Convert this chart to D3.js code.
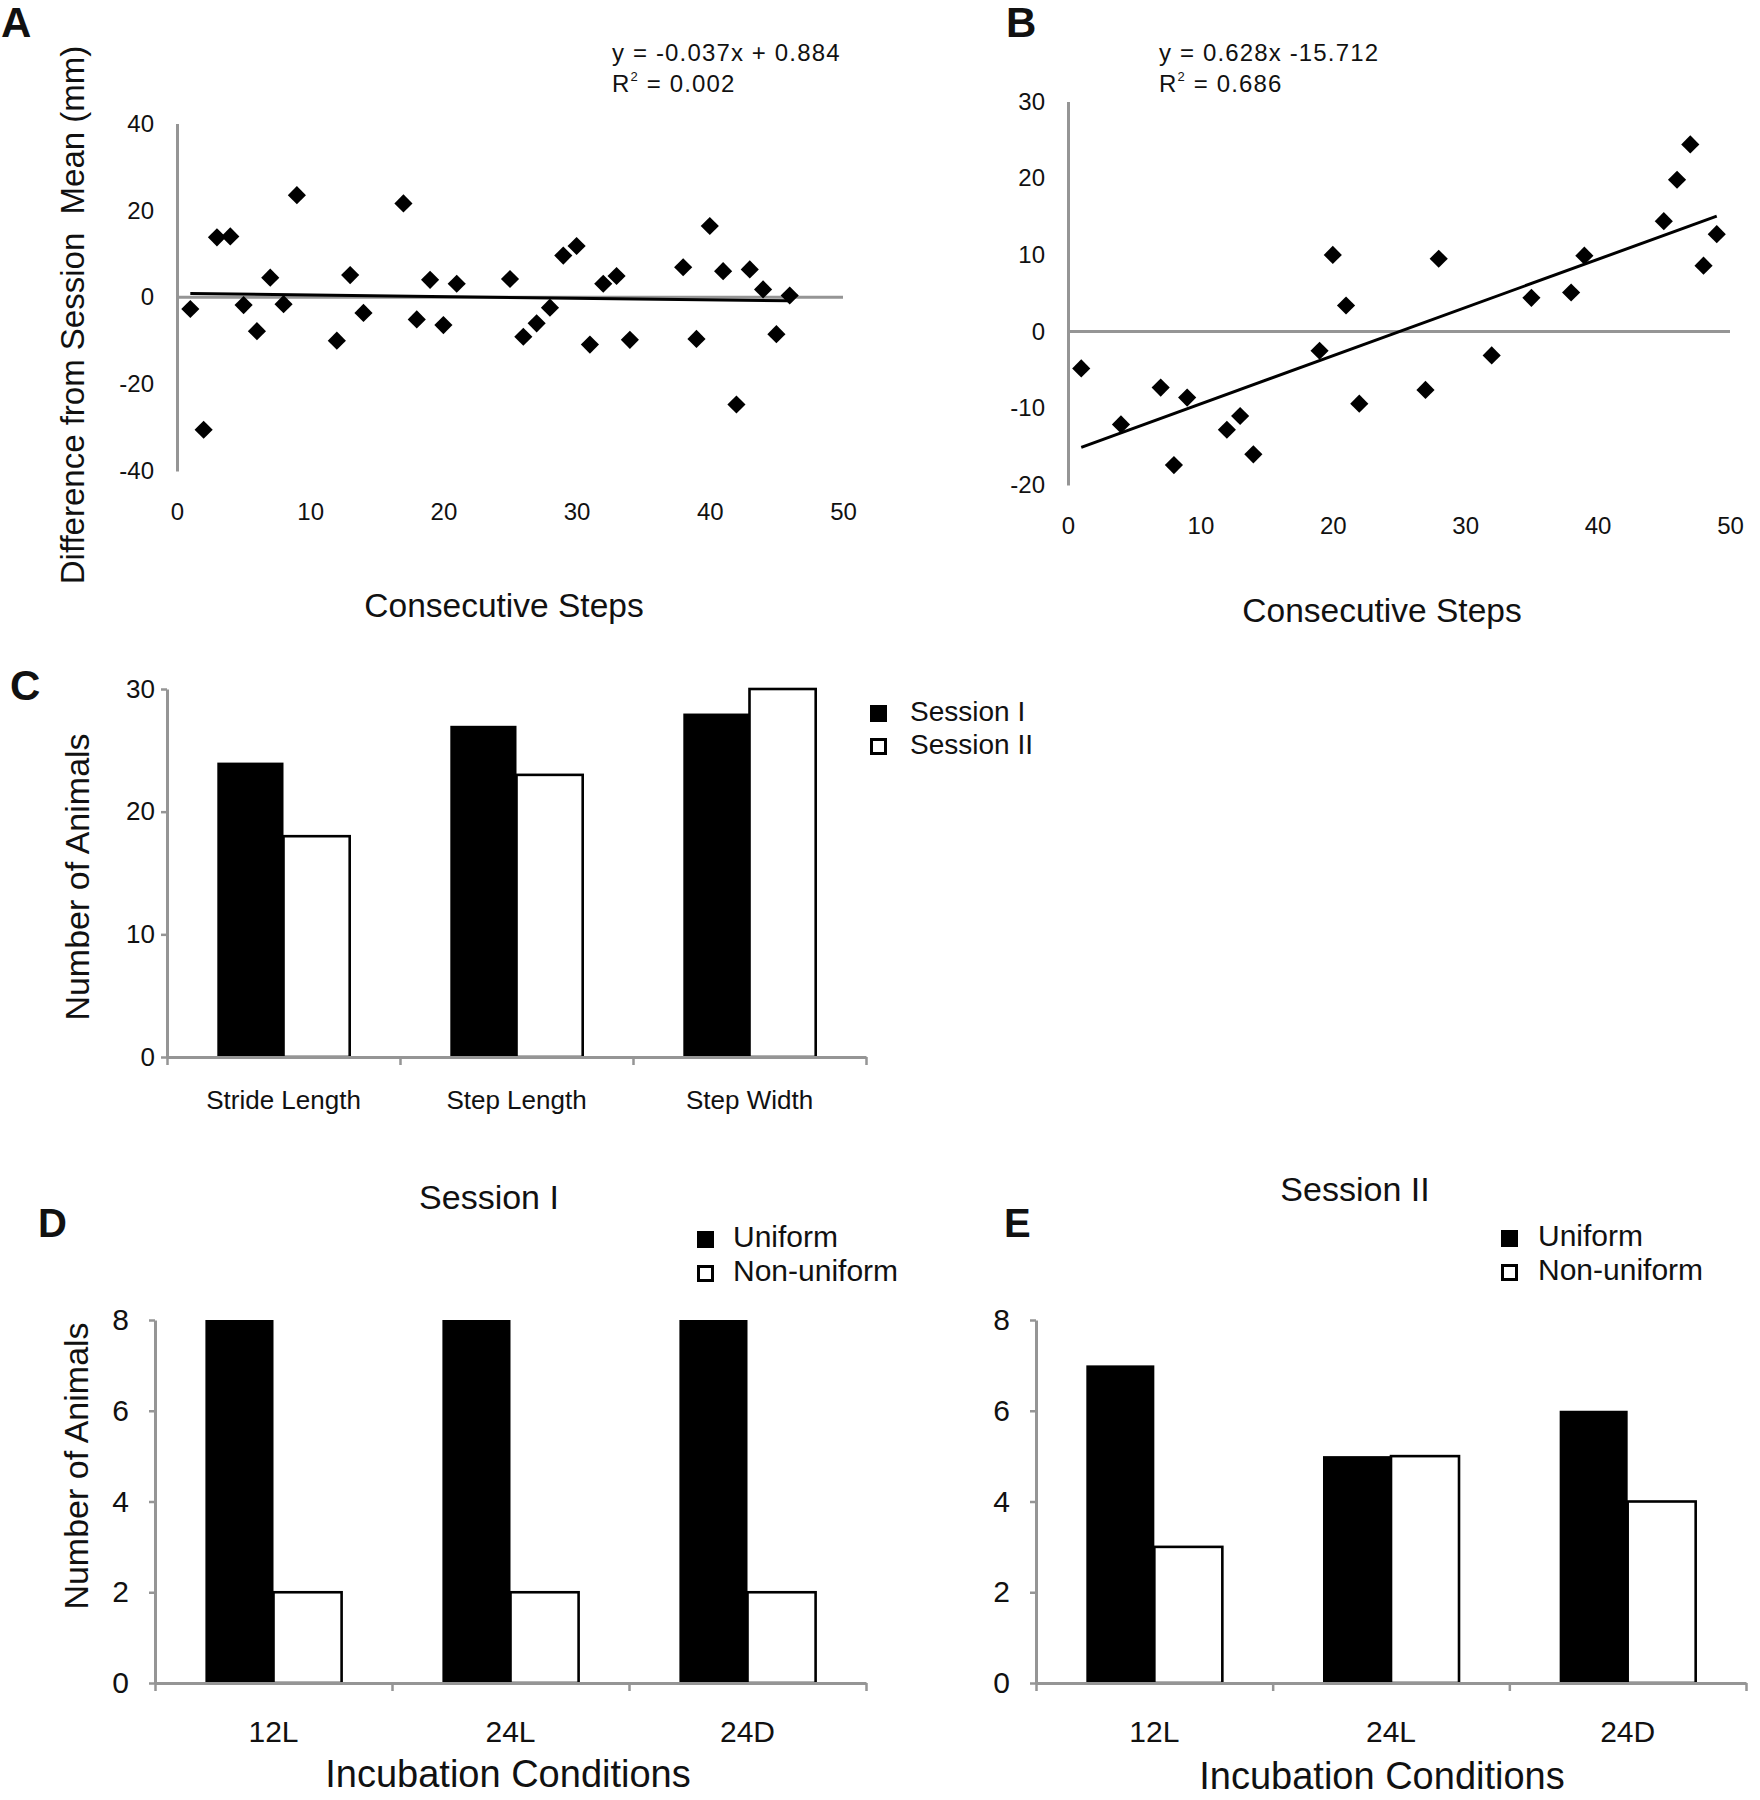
<!DOCTYPE html>
<html><head><meta charset="utf-8">
<script src="https://cdn.jsdelivr.net/npm/d3@7"></script>
<style>
body{margin:0;background:#fff}
text{font-family:"Liberation Sans",Arial,Helvetica,sans-serif;fill:#111}
</style>
</head><body>
<svg id="fig" width="1760" height="1800" xmlns="http://www.w3.org/2000/svg"></svg>
<script>
// ---------------- DATA ----------------
const stepsA = [1,2,3,4,5,6,7,8,9,12,13,14,17,18,19,20,21,25,26,27,28,29,30,31,32,33,34,38,39,40,41,42,43,44,45,46];
const diffA  = [-2.7,-30.5,13.8,14,-1.8,-7.8,4.5,-1.6,23.5,-10,5.1,-3.6,21.6,-5.1,4,-6.4,3.1,4.2,-9.1,-6,-2.4,9.6,11.8,-10.9,3.1,4.9,-9.8,6.9,-9.6,16.4,6,-24.7,6.4,1.8,-8.5,0.4];
const fitA = {slope:-0.037, intercept:0.884, from:1, to:46};

const stepsB = [1,4,7,8,9,12,13,14,19,20,21,22,27,28,32,35,38,39,45,46,47,48,49];
const diffB  = [-4.8,-12.1,-7.3,-17.4,-8.6,-12.8,-11,-16,-2.5,10,3.4,-9.4,-7.6,9.5,-3.1,4.4,5.1,9.9,14.4,19.8,24.4,8.6,12.7];
const fitB = {slope:0.628, intercept:-15.712, from:1, to:49};

const stepTicks = [0,10,20,30,40,50];
const ticksA = [-40,-20,0,20,40];
const ticksB = [-20,-10,0,10,20,30];

const gaitMeasures = ["Stride Length","Step Length","Step Width"];
const sessionI  = [24,27,28];
const sessionII = [18,23,30];
const ticksC = [0,10,20,30];

const incubation = ["12L","24L","24D"];
const uniformS1    = [8,8,8];
const nonUniformS1 = [2,2,2];
const uniformS2    = [7,5,6];
const nonUniformS2 = [3,5,4];
const ticksDE = [0,2,4,6,8];

// ---------------- HELPERS ----------------
const svg = d3.select("#fig");
const GRAY = "#959595";
const plain = d => String(d);   // hyphen-minus like the original

function label(txt, x, y, size, opts={}) {
  const t = svg.append("text").attr("x", x).attr("y", y)
    .attr("font-size", size).attr("text-anchor", opts.anchor || "start")
    .style("white-space","pre")
    .text(txt);
  if (opts.bold) t.attr("font-weight", "bold");
  return t;
}
function vlabel(txt, x, y, size) {
  return svg.append("text").attr("transform", `translate(${x},${y}) rotate(-90)`)
    .attr("font-size", size).attr("text-anchor", "middle")
    .style("white-space","pre").text(txt);
}
function equation(x, y1, y2, eq, r2) {
  label(eq, x, y1, 24).attr("letter-spacing", 1.15);
  const t = label("R", x, y2, 24).attr("letter-spacing", 1.15);
  t.append("tspan").attr("font-size", 13).attr("dy", -11).text("2");
  t.append("tspan").attr("dy", 11).text(" = " + r2);
}

function scatterPanel(p) {
  const x = d3.scaleLinear().domain([0,50]).range(p.xRange);
  const y = d3.scaleLinear().domain(p.yDomain).range(p.yRange);
  const g = svg.append("g");
  // y axis
  const ya = g.append("g").attr("transform", `translate(${p.xRange[0]},0)`)
    .call(d3.axisLeft(y).tickValues(p.yTicks).tickFormat(plain).tickSize(0).tickPadding(23).tickSizeOuter(0));
  ya.select(".domain").attr("stroke", GRAY).attr("stroke-width", 3);
  ya.selectAll("text").attr("font-size", 24).attr("font-family", null).attr("fill", "#111");
  // x axis labels (no line)
  const xa = g.append("g").attr("transform", `translate(0,${p.xLabelY})`)
    .call(d3.axisBottom(x).tickValues(stepTicks).tickFormat(plain).tickSize(0).tickPadding(0));
  xa.select(".domain").remove();
  xa.selectAll("text").attr("font-size", 24).attr("font-family", null).attr("fill", "#111")
    .attr("y", 0).attr("dy", "0.35em");
  // zero line
  g.append("line").attr("x1", x(0)).attr("x2", x(50)).attr("y1", y(0)).attr("y2", y(0))
    .attr("stroke", GRAY).attr("stroke-width", 3);
  // trend line
  const f = p.fit;
  g.append("path").datum([f.from, f.to])
    .attr("d", d3.line().x(d => x(d)).y(d => y(f.slope * d + f.intercept)))
    .attr("stroke", "#000").attr("stroke-width", 3).attr("fill", "none");
  // points
  const sym = d3.symbol().type(d3.symbolSquare).size(165);
  g.selectAll("path.pt").data(p.xs.map((v,i) => [v, p.ys[i]])).join("path")
    .attr("class", "pt")
    .attr("d", sym)
    .attr("transform", d => `translate(${x(d[0])},${y(d[1])}) rotate(45)`)
    .attr("fill", "#000");
}

function barPanel(p) {
  const y = d3.scaleLinear().domain([0, p.yMax]).range(p.yRange);
  const x0 = d3.scaleBand().domain(p.cats).range(p.xRange).padding(0);
  const x1 = d3.scaleBand().domain(d3.range(p.series.length)).range([0, x0.bandwidth()])
    .paddingInner(0).paddingOuter(p.pad);
  const xb = d3.scaleLinear().domain([0, p.cats.length]).range(p.xRange);
  const g = svg.append("g");
  // bars
  p.series.forEach((s, si) => {
    g.selectAll(null).data(s.vals).join("rect")
      .attr("x", (d,i) => x0(p.cats[i]) + x1(si))
      .attr("width", x1.bandwidth())
      .attr("y", d => y(d))
      .attr("height", d => y(0) - y(d))
      .attr("fill", s.fill)
      .attr("stroke", "#000")
      .attr("stroke-width", s.fill === "#fff" ? 2.6 : 0);
  });
  // y axis
  const ya = g.append("g").attr("transform", `translate(${p.xRange[0]},0)`)
    .call(d3.axisLeft(y).tickValues(p.yTicks).tickFormat(plain).tickSizeInner(6).tickSizeOuter(0).tickPadding(p.tickPad));
  ya.select(".domain").attr("stroke", GRAY).attr("stroke-width", 3);
  ya.selectAll(".tick line").attr("stroke", GRAY).attr("stroke-width", 2.5);
  ya.selectAll("text").attr("font-size", p.tickFont).attr("font-family", null).attr("fill", "#111");
  // x axis line with boundary ticks
  const xa = g.append("g").attr("transform", `translate(0,${y(0)})`)
    .call(d3.axisBottom(xb).tickValues(d3.range(p.cats.length + 1)).tickFormat("").tickSizeInner(8).tickSizeOuter(0));
  xa.select(".domain").attr("stroke", GRAY).attr("stroke-width", 3);
  xa.selectAll(".tick line").attr("stroke", GRAY).attr("stroke-width", 2.5);
  // category labels
  const ca = g.append("g").attr("transform", `translate(0,${p.catY})`)
    .call(d3.axisBottom(x0).tickSize(0).tickPadding(0));
  ca.select(".domain").remove();
  ca.selectAll("text").attr("font-size", p.catFont).attr("font-family", null).attr("fill", "#111")
    .attr("y", 0).attr("dy", 0);
}

function legend(x, yTop, gap, items, sq, font, textDx) {
  items.forEach((it, i) => {
    const yy = yTop + i * gap;
    const hollow = it.fill === "#fff";
    svg.append("rect").attr("x", x + (hollow ? 1.5 : 0)).attr("y", yy + (hollow ? 1.5 : 0))
      .attr("width", sq - (hollow ? 3 : 0)).attr("height", sq - (hollow ? 3 : 0))
      .attr("fill", it.fill).attr("stroke", "#000").attr("stroke-width", hollow ? 3 : 0);
    label(it.name, x + textDx, yy + sq - 1, font);
  });
}

// ---------------- PANEL A ----------------
label("A", 1, 37, 42, {bold:true});
equation(612, 61, 92, "y = -0.037x + 0.884", "0.002");
scatterPanel({xs: stepsA, ys: diffA, fit: fitA, xRange:[177, 843], yDomain:[-40,40], yRange:[471,123.5],
  yTicks: ticksA, xLabelY: 512});
vlabel("Difference from Session  Mean (mm)", 84, 315, 33);
label("Consecutive Steps", 504, 617, 33.5, {anchor:"middle"});

// ---------------- PANEL B ----------------
label("B", 1006, 37, 42, {bold:true});
equation(1159, 61, 92, "y = 0.628x -15.712", "0.686");
scatterPanel({xs: stepsB, ys: diffB, fit: fitB, xRange:[1068, 1730], yDomain:[-20,30], yRange:[485,101.5],
  yTicks: ticksB, xLabelY: 526});
label("Consecutive Steps", 1382, 622, 33.5, {anchor:"middle"});

// ---------------- PANEL C ----------------
label("C", 10, 700, 42, {bold:true});
barPanel({cats: gaitMeasures, series:[{vals: sessionI, fill:"#000"}, {vals: sessionII, fill:"#fff"}],
  xRange:[167, 866], yRange:[1057, 689], yMax:30, yTicks: ticksC, pad:0.76,
  tickPad:6, tickFont:26, catY:1109, catFont:26});
vlabel("Number of Animals", 89, 877, 34);
legend(870, 705, 33, [{name:"Session I", fill:"#000"}, {name:"Session II", fill:"#fff"}], 17, 28, 40);

// ---------------- PANEL D ----------------
label("D", 38, 1237, 40, {bold:true});
label("Session I", 489, 1209, 34, {anchor:"middle"});
legend(697, 1231, 34, [{name:"Uniform", fill:"#000"}, {name:"Non-uniform", fill:"#fff"}], 17, 30, 36);
barPanel({cats: incubation, series:[{vals: uniformS1, fill:"#000"}, {vals: nonUniformS1, fill:"#fff"}],
  xRange:[155, 866], yRange:[1683, 1320], yMax:8, yTicks: ticksDE, pad:0.74,
  tickPad:20, tickFont:30, catY:1742, catFont:30});
vlabel("Number of Animals", 88, 1466, 34);
label("Incubation Conditions", 508, 1787, 38, {anchor:"middle"});

// ---------------- PANEL E ----------------
label("E", 1004, 1237, 40, {bold:true});
label("Session II", 1355, 1201, 34, {anchor:"middle"});
legend(1501, 1230, 34, [{name:"Uniform", fill:"#000"}, {name:"Non-uniform", fill:"#fff"}], 17, 30, 37);
barPanel({cats: incubation, series:[{vals: uniformS2, fill:"#000"}, {vals: nonUniformS2, fill:"#fff"}],
  xRange:[1036, 1746], yRange:[1683, 1320], yMax:8, yTicks: ticksDE, pad:0.74,
  tickPad:20, tickFont:30, catY:1742, catFont:30});
label("Incubation Conditions", 1382, 1789, 38, {anchor:"middle"});
</script>
</body></html>
